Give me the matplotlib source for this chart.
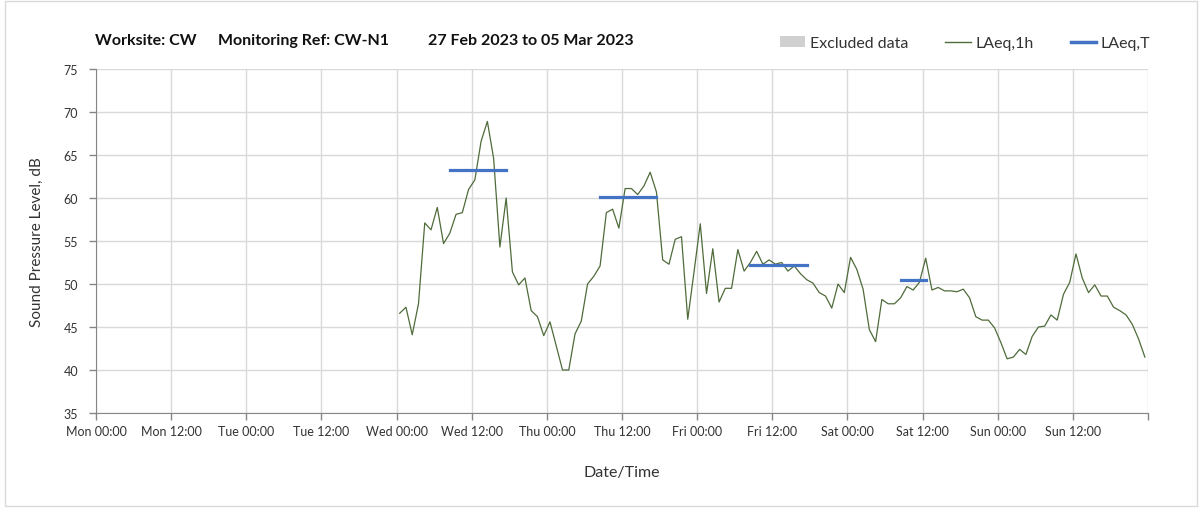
import numpy as np
import pandas as pd
import matplotlib
matplotlib.use("Agg")
import matplotlib.pyplot as plt
from matplotlib.patches import Patch, Rectangle
from matplotlib.lines import Line2D

plt.rcParams['font.family'] = ['Lato', 'DejaVu Sans']

# hourly LAeq,1h values, Wed 01 Mar 00:30 onwards
laeq_1h = [
    46.6, 47.3, 44.1, 47.7, 57.1, 56.3, 58.9, 54.7, 55.9, 58.1,
    58.3, 61.0, 62.1, 66.6, 68.9, 64.6, 54.3, 60.0, 51.4, 49.9,
    50.7, 46.9, 46.2, 44.0, 45.6, 42.8, 40.0, 40.0, 44.2, 45.7,
    50.0, 50.9, 52.1, 58.3, 58.7, 56.5, 61.1, 61.1, 60.4, 61.4,
    63.0, 60.7, 52.8, 52.3, 55.2, 55.5, 45.9, 51.4, 57.0, 48.9,
    54.1, 47.9, 49.5, 49.5, 54.0, 51.5, 52.5, 53.8, 52.3, 52.8,
    52.3, 52.5, 51.5, 52.1, 51.2, 50.5, 50.1, 49.0, 48.6, 47.2,
    50.0, 49.0, 53.1, 51.7, 49.4, 44.7, 43.3, 48.2, 47.7, 47.7,
    48.4, 49.7, 49.3, 50.2, 53.0, 49.3, 49.6, 49.2, 49.2, 49.1,
    49.4, 48.4, 46.2, 45.8, 45.8, 44.9, 43.2, 41.3, 41.5, 42.4,
    41.8, 43.9, 45.0, 45.1, 46.4, 45.8, 48.8, 50.2, 53.5, 50.7,
    49.0, 49.9, 48.6, 48.6, 47.3, 46.9, 46.4, 45.3, 43.6, 41.5,
]
times_1h = pd.date_range('2023-03-01 00:30', periods=len(laeq_1h), freq='h')

# LAeq,T daytime periods
laeq_t_start = ['2023-03-01 08:30', '2023-03-02 08:30', '2023-03-03 08:30', '2023-03-04 08:30']
laeq_t_end = ['2023-03-01 17:30', '2023-03-02 17:30', '2023-03-03 17:30', '2023-03-04 12:30']
laeq_t = [63.3, 60.1, 52.2, 50.5]

tick_times = pd.date_range('2023-02-27 00:00', '2023-03-06 00:00', freq='12h')
tick_labels = ['Mon 00:00', 'Mon 12:00', 'Tue 00:00', 'Tue 12:00', 'Wed 00:00', 'Wed 12:00',
               'Thu 00:00', 'Thu 12:00', 'Fri 00:00', 'Fri 12:00', 'Sat 00:00', 'Sat 12:00',
               'Sun 00:00', 'Sun 12:00', '']

title_parts = ['Worksite: CW', 'Monitoring Ref: CW-N1', '27 Feb 2023 to 05 Mar 2023']

W, H = 1203, 510
fig = plt.figure(figsize=(W / 100, H / 100), dpi=100)
fig.patches.append(Rectangle((5 / W, 3 / H), 1192 / W, 505 / H, transform=fig.transFigure,
                             fill=False, edgecolor='#d9d9d9', linewidth=1))

ax = fig.add_axes([96 / W, (H - 414) / H, (1148 - 96) / W, (414 - 70) / H])

green = '#4f6b3a'
blue = '#4472c4'
ax.plot(times_1h, laeq_1h, color=green, linewidth=0.9, zorder=3)
for s, e, v in zip(laeq_t_start, laeq_t_end, laeq_t):
    ax.plot([pd.Timestamp(s), pd.Timestamp(e)], [v, v], color=blue, linewidth=2.3, zorder=4)

ax.set_xlim(tick_times[0], tick_times[-1])
ax.set_ylim(35, 75)
ax.set_yticks(np.arange(35, 76, 5))
ax.set_xticks(tick_times)
ax.set_xticklabels(tick_labels)

ax.grid(True, color='#d9d9d9', linewidth=1)
ax.set_axisbelow(True)
for side in ['top', 'right']:
    ax.spines[side].set_visible(False)
for side in ['left', 'bottom']:
    ax.spines[side].set_color('#868686')
ax.tick_params(axis='both', colors='#868686', labelcolor='#333333', labelsize=9, length=5, width=1)
ax.tick_params(axis='x', pad=4)
ax.tick_params(axis='y', pad=8)

ax.set_ylabel('Sound Pressure Level, dB', fontsize=11, color='#333333', labelpad=14)
ax.set_xlabel('Date/Time', fontsize=11.5, color='#333333', labelpad=20)

for x, txt in zip([95, 218, 428], title_parts):
    fig.text(x / W, 1 - 41 / H, txt, fontsize=11.5, fontweight='bold',
             va='center', ha='left', color='#111111')

handles = [Patch(facecolor='#d0d0d0', edgecolor='none'),
           Line2D([], [], color=green, linewidth=1),
           Line2D([], [], color=blue, linewidth=2.5)]
fig.legend(handles, ['Excluded data', 'LAeq,1h', 'LAeq,T'], ncol=3, frameon=False,
           loc='center right', bbox_to_anchor=(1165 / W, 1 - 44 / H), fontsize=11.5,
           handlelength=1.6, handletextpad=0.3, columnspacing=2.3, labelcolor='#333333')

fig.savefig('out.png', dpi=100)
